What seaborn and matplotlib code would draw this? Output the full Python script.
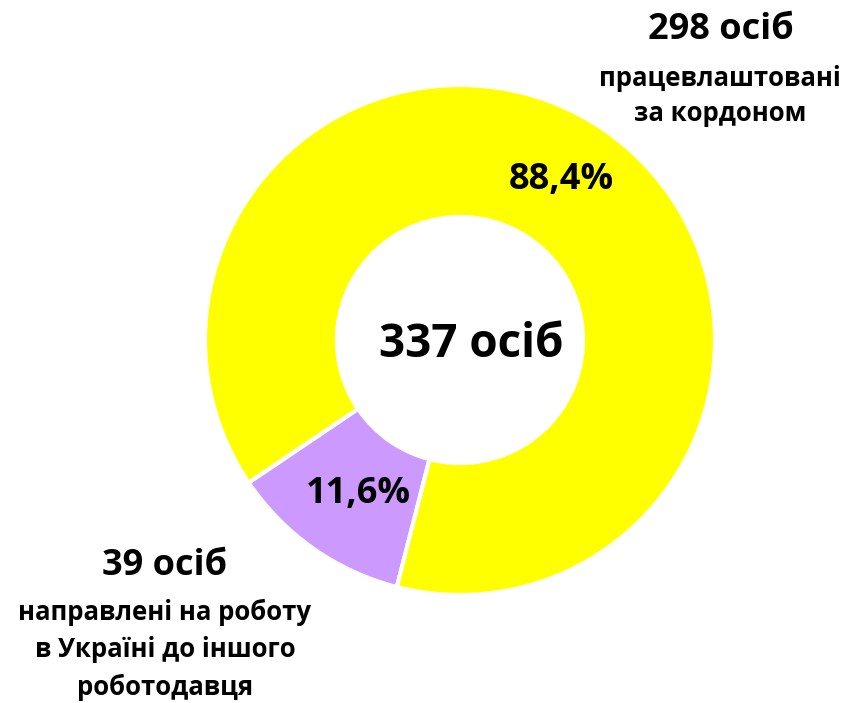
import matplotlib
matplotlib.use("Agg")
import matplotlib.pyplot as plt
import seaborn as sns

sns.set_theme(style="white")
plt.rcParams['font.family'] = ['Open Sans', 'Roboto', 'DejaVu Sans']
plt.rcParams['text.color'] = 'black'

# Data
categories = ["направлені на роботу\nв Україні до іншого\nроботодавця",
              "працевлаштовані\nза кордоном"]
counts = [39, 298]
pct_labels = ["11,6%", "88,4%"]
total_label = "337 осіб"
colors = ["#CC99FF", "#FFFF00"]

W, H = 845, 703
fig = plt.figure(figsize=(W / 100, H / 100), dpi=100)
ax = fig.add_axes([0, 0, 1, 1])
ax.axis('off')

cx, cy = 460, H - 340
r_out, r_in = 255, 123

wedges, _ = ax.pie(counts, colors=colors, startangle=214, counterclock=True,
                   radius=r_out, center=(cx, cy),
                   wedgeprops=dict(width=r_out - r_in, edgecolor='white', linewidth=3))
ax.set_xlim(0, W)
ax.set_ylim(0, H)
ax.set_aspect('equal')

# centre label
ax.text(471, H - 345, total_label, ha='center', va='center',
        fontsize=33, fontweight='bold')

# percentages
ax.text(358, H - 494, pct_labels[0], ha='center', va='center', fontsize=26, fontweight='bold')
ax.text(561, H - 180, pct_labels[1], ha='center', va='center', fontsize=26, fontweight='bold')

# outer labels
ax.text(721, H - 30, f"{counts[1]} осіб", ha='center', va='center', fontsize=26, fontweight='bold')
ax.text(720, H - 96, categories[1], ha='center', va='center', fontsize=18.5,
        fontweight='bold', linespacing=1.4)

ax.text(165, H - 566, f"{counts[0]} осіб", ha='center', va='center', fontsize=26, fontweight='bold')
ax.text(165, H - 650, categories[0], ha='center', va='center', fontsize=18.5,
        fontweight='bold', linespacing=1.5)

plt.savefig("out.png", dpi=100)
